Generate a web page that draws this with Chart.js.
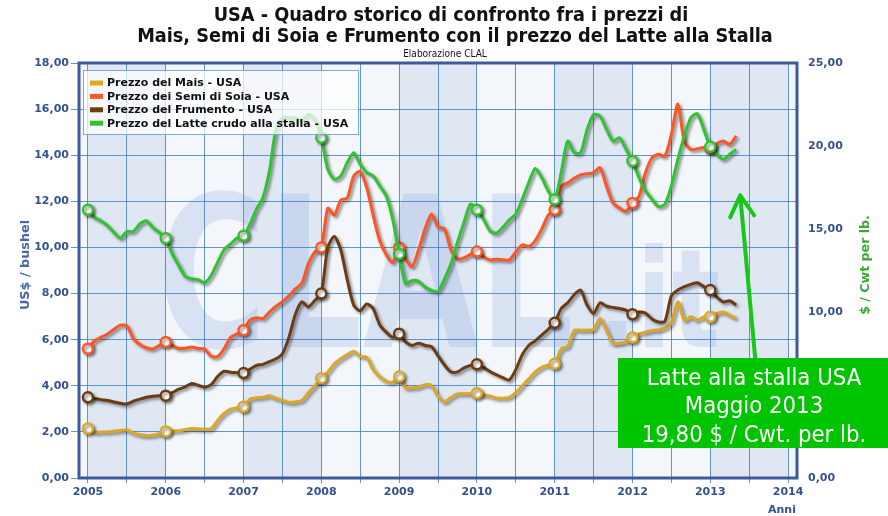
<!DOCTYPE html>
<html>
<head>
<meta charset="utf-8">
<title>USA - Quadro storico</title>
<script src="https://cdn.jsdelivr.net/npm/chart.js@4.4.0/dist/chart.umd.min.js"></script>
<style>
    html, body { margin: 0; padding: 0; background: #fff; }
    #wrap { width: 888px; height: 516px; }
</style>
</head>
<body>
<div id="wrap"><canvas id="chart" width="888" height="516"></canvas></div>
<script>
// Mesi: da gennaio 2005 a maggio 2013 (valori mensili)
const NOMI_MESI = ['gen', 'feb', 'mar', 'apr', 'mag', 'giu', 'lug', 'ago', 'set', 'ott', 'nov', 'dic'];
const MESI = [];
for (let i = 0; i < 101; i++) MESI.push(NOMI_MESI[i % 12] + ' ' + (2005 + Math.floor(i / 12)));
const POSIZIONE = MESI.map((m, i) => 2005 + i / 12);

// US$ / bushel
const MAIS = [
    2.15, 1.98, 1.99, 2.00, 2.03, 2.06, 2.08, 1.95, 1.88, 1.84, 1.85, 1.92,
    2.02, 2.04, 2.05, 2.10, 2.15, 2.13, 2.12, 2.14, 2.50, 2.80, 2.99, 3.05,
    3.09, 3.43, 3.48, 3.50, 3.57, 3.45, 3.36, 3.28, 3.30, 3.36, 3.70, 4.00,
    4.33, 4.60, 4.95, 5.17, 5.35, 5.50, 5.27, 5.24, 4.70, 4.40, 4.20, 4.15,
    4.40, 3.91, 3.91, 3.95, 4.05, 4.01, 3.55, 3.30, 3.50, 3.65, 3.65, 3.66,
    3.68, 3.60, 3.55, 3.47, 3.46, 3.50, 3.70, 4.00, 4.30, 4.60, 4.80, 4.90,
    4.96, 5.60, 5.70, 6.40, 6.41, 6.41, 6.45, 6.92, 6.40, 5.83, 5.84, 5.90,
    6.09, 6.25, 6.33, 6.40, 6.42, 6.50, 6.75, 7.64, 6.84, 6.99, 6.84, 6.99,
    6.99, 7.14, 7.20, 7.06, 6.92
];
const SOIA = [
    5.61, 5.95, 6.10, 6.25, 6.45, 6.63, 6.60, 6.05, 5.80, 5.65, 5.60, 5.75,
    5.90, 5.75, 5.62, 5.63, 5.68, 5.62, 5.60, 5.28, 5.27, 5.60, 6.10, 6.25,
    6.41, 6.85, 6.95, 6.92, 7.20, 7.45, 7.65, 7.90, 8.20, 8.45, 9.30, 9.80,
    10.00, 11.70, 11.40, 12.05, 12.15, 13.09, 13.30, 12.60, 11.40, 10.30, 9.70, 9.35,
    10.00, 9.50, 9.17, 9.90, 10.80, 11.45, 10.90, 10.80, 9.90, 9.50, 9.55, 9.70,
    9.82, 9.60, 9.46, 9.49, 9.47, 9.46, 9.80, 10.11, 10.04, 10.30, 10.80, 11.40,
    11.64, 12.65, 12.80, 13.00, 13.15, 13.20, 13.24, 13.46, 12.65, 11.93, 11.71, 11.57,
    11.93, 12.22, 13.24, 13.89, 14.04, 13.96, 14.90, 16.22, 14.60, 14.25, 14.28, 14.33,
    14.30, 14.50, 14.62, 14.47, 14.84
];
const FRUMENTO = [
    3.50, 3.45, 3.40, 3.36, 3.30, 3.24, 3.21, 3.33, 3.42, 3.50, 3.55, 3.57,
    3.57, 3.70, 3.85, 3.95, 4.10, 4.02, 3.94, 4.05, 4.40, 4.63, 4.59, 4.57,
    4.55, 4.72, 4.88, 4.93, 5.05, 5.17, 5.39, 6.10, 7.10, 7.64, 7.42, 7.70,
    8.00, 10.00, 10.48, 9.90, 8.60, 7.50, 7.25, 7.55, 7.35, 6.65, 6.33, 6.10,
    6.26, 5.90, 5.75, 5.85, 5.75, 5.70, 5.30, 4.90, 4.60, 4.60, 4.78, 4.88,
    4.93, 4.80, 4.62, 4.48, 4.35, 4.25, 4.70, 5.35, 5.75, 5.95, 6.20, 6.45,
    6.73, 7.35, 7.60, 7.95, 8.15, 7.50, 7.14, 7.60, 7.45, 7.40, 7.35, 7.28,
    7.10, 7.20, 7.15, 6.90, 6.77, 6.80, 7.90, 8.15, 8.30, 8.40, 8.47, 8.30,
    8.15, 7.85, 7.64, 7.69, 7.50
];
// $ / Cwt per lb.
const LATTE = [
    16.16, 15.70, 15.50, 15.20, 14.80, 14.45, 14.85, 14.85, 15.30, 15.50, 15.10, 14.80,
    14.45, 13.50, 12.80, 12.15, 12.00, 11.95, 11.76, 12.20, 13.00, 13.75, 14.10, 14.45,
    14.60, 15.30, 16.20, 16.90, 18.50, 21.00, 21.70, 21.70, 21.70, 21.50, 21.90, 21.60,
    20.50, 18.60, 18.00, 18.20, 19.00, 19.60, 18.90, 18.40, 18.20, 17.60, 17.00, 15.60,
    13.50, 11.70, 11.90, 11.85, 11.50, 11.30, 11.25, 12.00, 12.90, 14.20, 15.40, 16.50,
    16.16, 15.60, 14.90, 14.75, 15.10, 15.55, 15.90, 16.80, 17.80, 18.65, 18.10, 17.30,
    16.77, 18.40, 20.30, 19.60, 19.60, 21.00, 21.90, 21.80, 21.00, 20.30, 20.50, 19.80,
    19.10, 18.10, 17.30, 16.80, 16.35, 16.50, 17.60, 19.20, 20.60, 21.70, 21.95, 21.00,
    19.95, 19.50, 19.20, 19.50, 19.80
];

// Tick dell'asse x (ogni semestre) e limiti degli assi
const TICK_X = [2005, 2005.5, 2006, 2006.5, 2007, 2007.5, 2008, 2008.5, 2009, 2009.5,
    2010, 2010.5, 2011, 2011.5, 2012, 2012.5, 2013, 2013.5, 2014];
const X_MIN = 2004.885, X_MAX = 2014.115;
const Y_MAX = 18, Y1_MAX = 25;

const COL_MAIS = '#dca824';
const COL_SOIA = '#ff5522';
const COL_FRUM = '#6b3c12';
const COL_LATTE = '#2fc42f';
const COL_ASSE = '#34508e';
const COL_GRIGLIA = 'rgba(62,125,188,0.8)';
const BANDA_SCURA = '#dfe7f3';
const BANDA_CHIARA = '#f3f6fb';

Chart.defaults.font.family = '"DejaVu Sans"';

function serie(label, valori, colore, asse, ordine) {
    return {
        label: label,
        data: valori.map((v, i) => ({ x: POSIZIONE[i], y: v })),
        yAxisID: asse,
        order: ordine,
        borderColor: colore,
        backgroundColor: '#fff',
        borderWidth: 3,
        tension: 0.25,
        pointRadius: ctx => (ctx.dataIndex % 12 === 0 ? 5 : 0),
        pointBackgroundColor: '#fff',
        pointBorderColor: colore,
        pointBorderWidth: 2.5,
        fill: false
    };
}

function testoAdattato(ctx, txt, font, x0, x1, base) {
    ctx.font = font;
    const w = ctx.measureText(txt).width;
    ctx.save();
    ctx.translate(x0, base);
    ctx.scale((x1 - x0) / w, 1);
    ctx.textAlign = 'left';
    ctx.textBaseline = 'alphabetic';
    ctx.fillText(txt, 0, 0);
    ctx.restore();
}

// sfondo a bande annuali + logo in filigrana
const sfondo = {
    id: 'sfondo',
    beforeDraw(chart) {
        const { ctx, chartArea: a } = chart;
        const x = chart.scales.x;
        ctx.save();
        ctx.fillStyle = '#fff';
        ctx.fillRect(0, 0, chart.width, chart.height);
        for (let anno = 2004; anno <= 2014; anno++) {
            const x0 = Math.max(a.left, x.getPixelForValue(anno));
            const x1 = Math.min(a.right, x.getPixelForValue(anno + 1));
            if (x1 <= x0) continue;
            ctx.fillStyle = anno % 2 === 1 ? BANDA_SCURA : BANDA_CHIARA;
            ctx.fillRect(x0, a.top, x1 - x0, a.bottom - a.top);
        }
        ctx.beginPath();
        ctx.rect(a.left, a.top, a.right - a.left, a.bottom - a.top);
        ctx.clip();
        ctx.fillStyle = 'rgba(105,145,212,0.19)';
        testoAdattato(ctx, 'CLAL', 'bold 211px "DejaVu Sans"', 157, 574, 347);
        testoAdattato(ctx, '.it', 'bold 138px "DejaVu Sans"', 598, 720, 347);
        ctx.restore();
    }
};

// cornice spessa dell'area del grafico
const cornice = {
    id: 'cornice',
    beforeDatasetsDraw(chart) {
        const { ctx, chartArea: a } = chart;
        ctx.save();
        ctx.strokeStyle = '#3c5a9c';
        ctx.lineWidth = 3;
        ctx.strokeRect(a.left, a.top, a.right - a.left, a.bottom - a.top);
        ctx.restore();
    }
};

// ombra sotto le linee
const ombra = {
    id: 'ombra',
    beforeDatasetDraw(chart) {
        const c = chart.ctx;
        c.save();
        c.shadowColor = 'rgba(0,0,0,0.45)';
        c.shadowBlur = 3;
        c.shadowOffsetX = 2;
        c.shadowOffsetY = 2;
    },
    afterDatasetDraw(chart) {
        chart.ctx.restore();
    }
};

const legenda = {
    id: 'legenda',
    afterDatasetsDraw(chart) {
        const ctx = chart.ctx;
        ctx.save();
        ctx.fillStyle = 'rgba(255,255,255,0.72)';
        ctx.fillRect(83, 70, 276, 65);
        ctx.strokeStyle = 'rgba(90,150,200,0.8)';
        ctx.lineWidth = 1;
        ctx.strokeRect(83.5, 70.5, 275, 64);
        ctx.font = 'bold 11px "DejaVu Sans"';
        ctx.textBaseline = 'middle';
        ctx.textAlign = 'left';
        chart.data.datasets.forEach((ds, i) => {
            const y = 83 + i * 13.4;
            ctx.fillStyle = ds.borderColor;
            ctx.fillRect(90, y - 2.5, 13, 5);
            ctx.fillStyle = '#111';
            ctx.fillText(ds.label, 107, y + 0.5);
        });
        ctx.restore();
    }
};

const testi = {
    id: 'testi',
    afterDraw(chart) {
        const ctx = chart.ctx;
        ctx.save();
        // titolo
        ctx.fillStyle = '#111';
        ctx.textAlign = 'center';
        ctx.textBaseline = 'alphabetic';
        const riga1 = 'USA - Quadro storico di confronto fra i prezzi di';
        const riga2 = 'Mais, Semi di Soia e Frumento con il prezzo del Latte alla Stalla';
        ctx.font = 'bold 17px "DejaVu Sans Condensed"';
        const k = 636 / ctx.measureText(riga2).width;
        ctx.font = 'bold ' + (17 * k).toFixed(1) + 'px "DejaVu Sans Condensed"';
        ctx.fillText(riga1, 451, 21);
        ctx.fillText(riga2, 455, 42);
        ctx.font = '10px "DejaVu Sans Condensed"';
        ctx.fillText('Elaborazione CLAL', 445, 57);

        // titoli degli assi
        ctx.font = 'bold 12.8px "DejaVu Sans"';
        ctx.fillStyle = '#4668a8';
        ctx.save();
        ctx.translate(26, 265);
        ctx.rotate(-Math.PI / 2);
        ctx.textBaseline = 'middle';
        ctx.fillText('US$ / bushel', 0, 0);
        ctx.restore();
        ctx.font = 'bold 12.6px "DejaVu Sans"';
        ctx.fillStyle = '#3aaa35';
        ctx.save();
        ctx.translate(866, 265);
        ctx.rotate(-Math.PI / 2);
        ctx.textBaseline = 'middle';
        ctx.fillText('$ / Cwt per lb.', 0, 0);
        ctx.restore();
        ctx.font = 'bold 11px "DejaVu Sans"';
        ctx.fillStyle = COL_ASSE;
        ctx.fillText('Anni', 782, 513);

        // freccia verso l'ultimo valore del latte
        const xs = chart.scales.x, ys = chart.scales.y1;
        const ultimo = LATTE.length - 1;
        const px = xs.getPixelForValue(POSIZIONE[ultimo]) + 4;
        const py = ys.getPixelForValue(LATTE[ultimo]) + 46;
        ctx.strokeStyle = '#18c818';
        ctx.lineWidth = 4;
        ctx.lineCap = 'round';
        ctx.lineJoin = 'round';
        ctx.beginPath();
        ctx.moveTo(px + 15, 358);
        ctx.lineTo(px, py);
        ctx.moveTo(px - 10, py + 22);
        ctx.lineTo(px, py);
        ctx.lineTo(px + 14, py + 20);
        ctx.stroke();

        // riquadro verde
        ctx.fillStyle = '#00c400';
        ctx.fillRect(618, 358, 270, 90);
        ctx.fillStyle = '#fff';
        const n1 = 'Latte alla stalla USA';
        const n2 = 'Maggio 2013';
        const n3 = '19,80 $ / Cwt. per lb.';
        ctx.font = '22px "DejaVu Sans Condensed"';
        const k2 = 225 / ctx.measureText(n3).width;
        ctx.font = (22 * k2).toFixed(1) + 'px "DejaVu Sans Condensed"';
        ctx.textAlign = 'center';
        ctx.textBaseline = 'alphabetic';
        ctx.fillText(n1, 754, 385);
        ctx.fillText(n2, 754, 413);
        ctx.fillText(n3, 754, 442);
        ctx.restore();
    }
};

const chart = new Chart(document.getElementById('chart'), {
    type: 'line',
    data: {
        datasets: [
            serie('Prezzo del Mais - USA', MAIS, COL_MAIS, 'y', 3),
            serie('Prezzo dei Semi di Soia - USA', SOIA, COL_SOIA, 'y', 2),
            serie('Prezzo del Frumento - USA', FRUMENTO, COL_FRUM, 'y', 1),
            serie('Prezzo del Latte crudo alla stalla - USA', LATTE, COL_LATTE, 'y1', 0)
        ]
    },
    options: {
        responsive: false,
        animation: false,
        events: [],
        layout: { padding: { top: 63, left: 0, right: 0, bottom: 0 } },
        plugins: { legend: { display: false }, tooltip: { enabled: false } },
        scales: {
            x: {
                type: 'linear',
                min: X_MIN,
                max: X_MAX,
                afterBuildTicks: s => { s.ticks = TICK_X.map(v => ({ value: v })); },
                ticks: {
                    autoSkip: false,
                    maxRotation: 0,
                    padding: 3,
                    color: COL_ASSE,
                    font: { size: 11, weight: 'bold' },
                    callback: v => (Number.isInteger(v) ? String(v) : '')
                },
                grid: { color: COL_GRIGLIA, tickLength: 5 },
                border: { display: false },
                afterFit: s => { s.height = 38; }
            },
            y: {
                position: 'left',
                min: 0,
                max: Y_MAX,
                ticks: {
                    stepSize: 2,
                    padding: 2,
                    color: COL_ASSE,
                    font: { size: 11, weight: 'bold' },
                    callback: v => v.toFixed(2).replace('.', ',')
                },
                grid: { color: COL_GRIGLIA, tickLength: 8 },
                border: { display: false },
                afterFit: s => { s.width = 79; }
            },
            y1: {
                position: 'right',
                min: 0,
                max: Y1_MAX,
                ticks: {
                    stepSize: 5,
                    padding: 11,
                    color: COL_ASSE,
                    font: { size: 11, weight: 'bold' },
                    callback: v => v.toFixed(2).replace('.', ',')
                },
                grid: { drawOnChartArea: false, drawTicks: false },
                border: { display: false },
                afterFit: s => { s.width = 91; }
            }
        }
    },
    plugins: [sfondo, cornice, ombra, legenda, testi]
});
</script>
</body>
</html>
